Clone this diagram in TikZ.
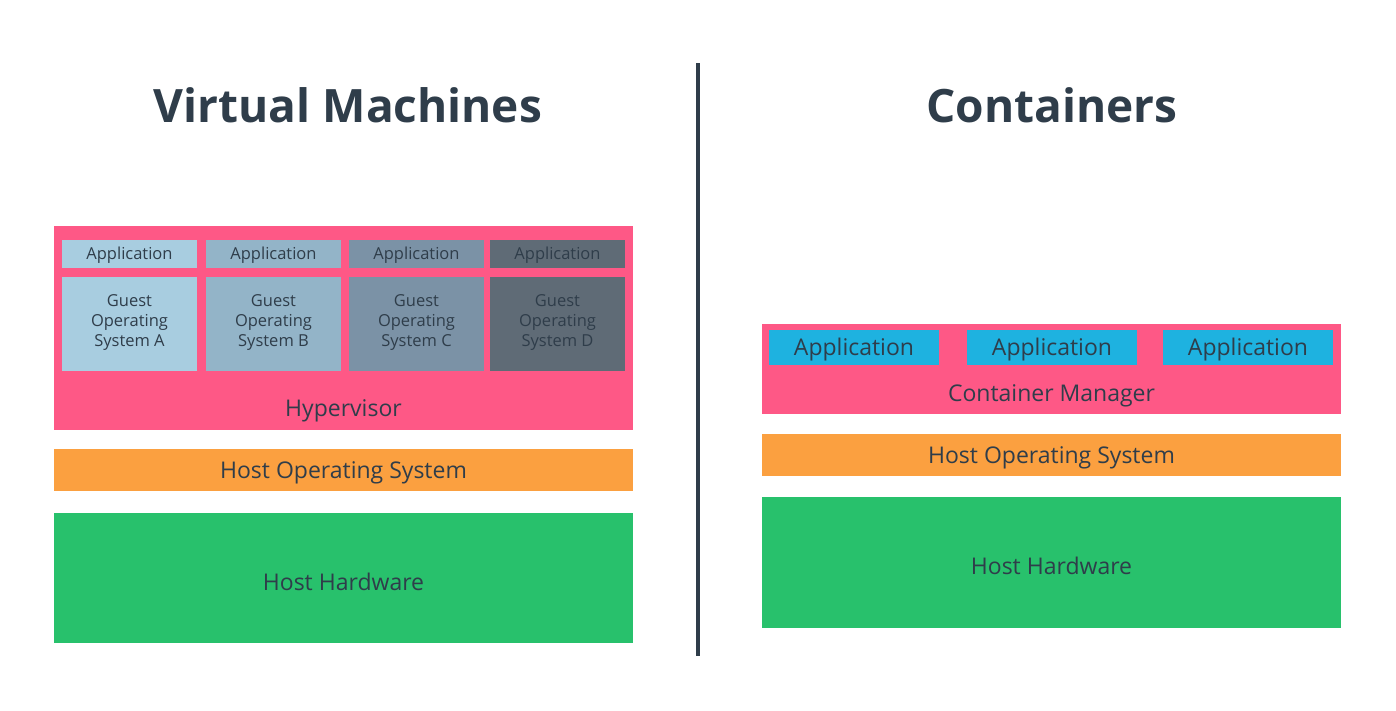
\documentclass[tikz,border=0pt]{standalone}
\usepackage{fontspec}
\setmainfont{Open Sans}
\definecolor{ink}{HTML}{2F3D4A}
\definecolor{pinkbar}{HTML}{FE5886}
\definecolor{orangebar}{HTML}{FBA040}
\definecolor{greenbar}{HTML}{28C16C}
\definecolor{bluebar}{HTML}{1EB2E0}
\definecolor{vmA}{HTML}{A8CDE0}
\definecolor{vmB}{HTML}{93B4C8}
\definecolor{vmC}{HTML}{7B92A6}
\definecolor{vmD}{HTML}{5F6B76}
\begin{document}
\begin{tikzpicture}
  [x=1pt,y=-1pt,every node/.style={inner sep=0pt,text=ink},
   layer/.style={rectangle,minimum width=579pt},
   title/.style={font=\fontsize{46}{55}\selectfont\bfseries},
   bigtext/.style={font=\fontsize{23}{28}\selectfont,text height=17pt,text depth=1pt},
   hwtext/.style={bigtext,text height=25pt},
   smalltext/.style={font=\fontsize{16.5}{20}\selectfont,align=center,text=ink},
   apptext/.style={font=\fontsize{16.5}{20}\selectfont,text height=12pt,text depth=1pt},
   vmapp/.style={rectangle,minimum width=135pt,minimum height=28pt},
   guest/.style={rectangle,minimum width=135pt,minimum height=94pt}]

  \useasboundingbox[fill=white] (0,0) rectangle (1396,710);

  % titles and divider
  \node[title] (vmtitle) at (348,105) {Virtual Machines};
  \node[title] (cttitle) at (1052,105) {Containers};
  \coordinate (divtop) at (698,63);
  \coordinate (divbot) at (698,656);
  \draw[ink,line width=4pt] (divtop) -- (divbot);

  % virtual machines
  \node[layer,fill=pinkbar,minimum height=204pt] (hyp) at (343.5,328) {};
  \node[bigtext] (hyptext) at (343.5,408) {Hypervisor};
  \foreach \n/\x/\c in {A/129.5/vmA,B/273.5/vmB,C/416.5/vmC,D/557.5/vmD}{
    \node[vmapp,fill=\c,apptext] (app\n) at (\x,254) {Application};
    \node[guest,fill=\c,label={[smalltext,yshift=2pt]center:Guest\\Operating\\System \n}] (guest\n) at (\x,324) {};
  }
  \node[layer,fill=orangebar,minimum height=42pt,bigtext] (vmhostos) at (343.5,470) {Host Operating System};
  \node[layer,fill=greenbar,minimum height=130pt,hwtext] (vmhw) at (343.5,578) {Host Hardware};

  % containers
  \node[layer,fill=pinkbar,minimum height=90pt] (ctmgr) at (1051.5,369) {};
  \node[bigtext] (ctmgrtext) at (1051.5,393) {Container Manager};
  \foreach \n/\x in {1/854,2/1052,3/1248}{
    \node[rectangle,fill=bluebar,minimum width=170pt,minimum height=35pt,bigtext] (ctapp\n) at (\x,347.5) {Application};
  }
  \node[layer,fill=orangebar,minimum height=42pt,bigtext] (cthostos) at (1051.5,455) {Host Operating System};
  \node[layer,fill=greenbar,minimum height=131pt,hwtext] (cthw) at (1051.5,562.5) {Host Hardware};

\end{tikzpicture}
\end{document}
